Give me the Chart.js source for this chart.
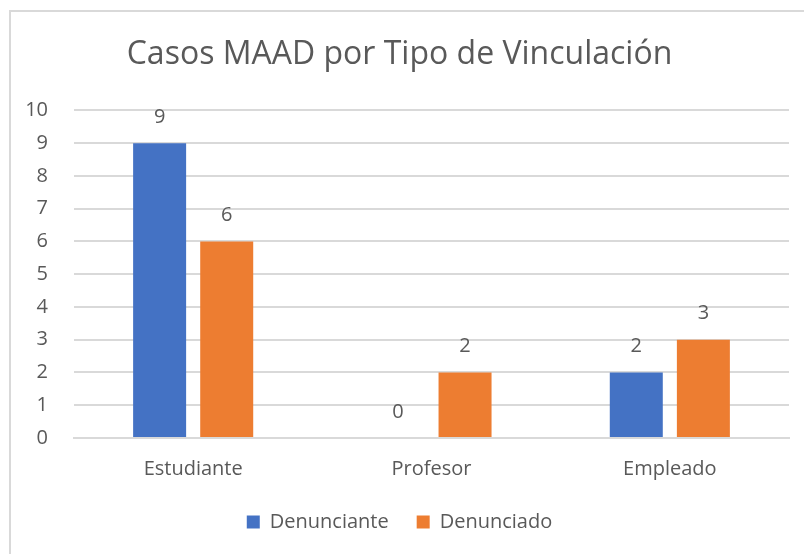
<!DOCTYPE html>
<html>
<head>
<meta charset="utf-8">
<script src="https://cdn.jsdelivr.net/npm/chart.js@4"></script>
<style>
  body { margin: 0; background: #fff; }
  #frame { position: absolute; left: 9px; top: 10px; width: 820px; height: 570px; border: 2px solid #d9d9d9; box-sizing: border-box; }
  #wrap { position: absolute; left: 0; top: 0; width: 804px; height: 554px; }
</style>
</head>
<body>
<div id="frame"></div>
<div id="wrap"><canvas id="chart" width="804" height="554"></canvas></div>
<script>
'use strict';

let categories = ['Estudiante', 'Profesor', 'Empleado'];
let denunciante = [9, 0, 2];
let denunciado = [6, 2, 3];
let yTicks = [0, 1, 2, 3, 4, 5, 6, 7, 8, 9, 10];

let textColor = '#595959';
let fontName = '"Open Sans", "Liberation Sans", sans-serif';

// draws the value over every bar
let valueLabels = {
  id: 'valueLabels',
  afterDatasetsDraw(chart) {
    let ctx = chart.ctx;
    ctx.save();
    ctx.font = '20px ' + fontName;
    ctx.fillStyle = textColor;
    ctx.textAlign = 'center';
    ctx.textBaseline = 'middle';
    chart.data.datasets.forEach(function (ds, i) {
      let meta = chart.getDatasetMeta(i);
      meta.data.forEach(function (bar, j) {
        ctx.fillText(String(ds.data[j]), bar.x, bar.y - 26);
      });
    });
    ctx.restore();
  }
};

let ctx = document.getElementById('chart').getContext('2d');

let chart = new Chart(ctx, {
  type: 'bar',
  data: {
    labels: categories,
    datasets: [
      { label: 'Denunciante', data: denunciante, backgroundColor: '#4472C4' },
      { label: 'Denunciado', data: denunciado, backgroundColor: '#ED7D31' }
    ]
  },
  plugins: [valueLabels],
  options: {
    responsive: false,
    animation: false,
    layout: { padding: { left: 10, right: 15, top: 0, bottom: 12 } },
    datasets: {
      bar: { categoryPercentage: 0.563, barPercentage: 0.79 }
    },
    plugins: {
      title: {
        display: true,
        text: 'Casos MAAD por Tipo de Vinculación',
        color: textColor,
        font: { family: fontName, size: 32, weight: 'normal' },
        padding: { top: 36, bottom: 36 }
      },
      legend: {
        position: 'bottom',
        labels: {
          color: textColor,
          font: { family: fontName, size: 20 },
          boxWidth: 13,
          boxHeight: 13,
          padding: 28
        }
      },
      tooltip: { enabled: false }
    },
    scales: {
      x: {
        grid: { display: false },
        border: { color: '#d9d9d9', width: 2 },
        ticks: { color: textColor, font: { family: fontName, size: 20 }, padding: 11 },
        afterFit: function (axis) { axis.height = 46; }
      },
      y: {
        min: 0,
        max: 10,
        grid: { color: '#d9d9d9', lineWidth: 2, drawTicks: false },
        border: { display: false },
        afterBuildTicks: function (axis) {
          axis.ticks = yTicks.map(function (v) { return { value: v }; });
        },
        ticks: { color: textColor, font: { family: fontName, size: 20 }, padding: 26 },
        afterFit: function (axis) { axis.width = 64; }
      }
    }
  }
});
</script>
</body>
</html>
